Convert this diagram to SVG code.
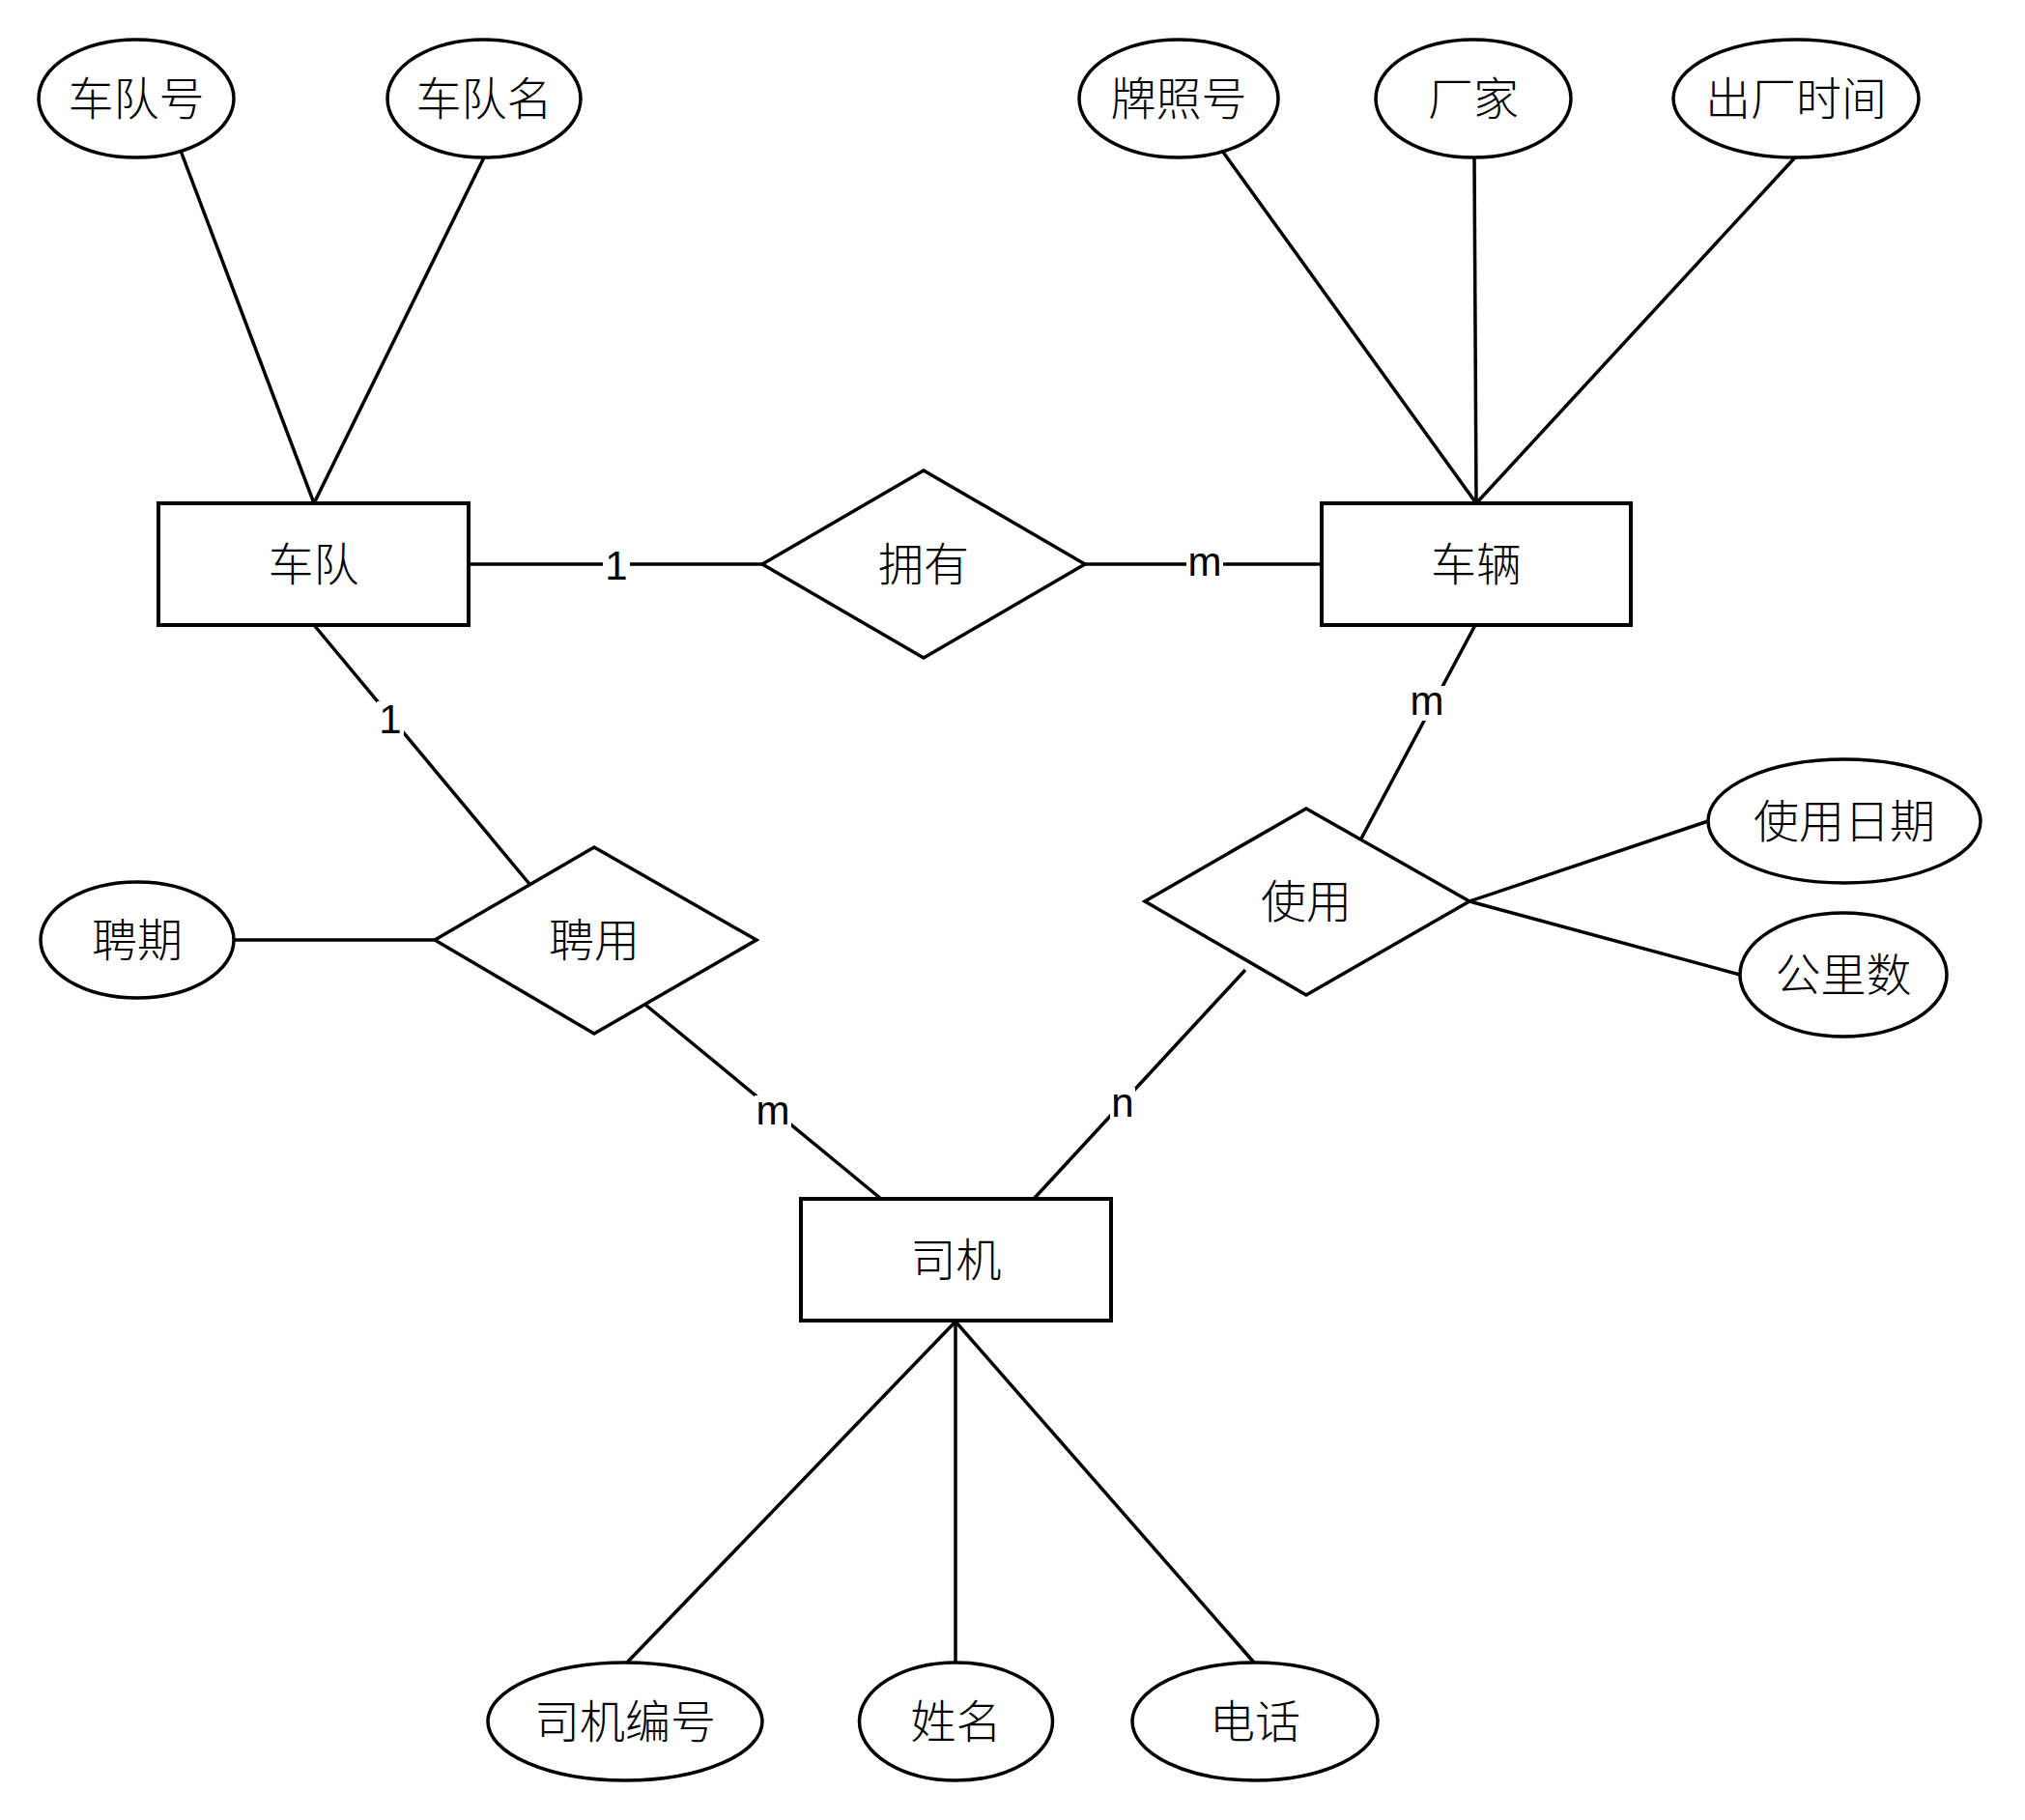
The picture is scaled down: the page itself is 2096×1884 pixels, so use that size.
<svg xmlns="http://www.w3.org/2000/svg" width="2096" height="1884" viewBox="0 0 2096 1884">
<style>
.bg{fill:#ffffff}
.ent{fill:#ffffff;stroke:#000;stroke-width:4}
.attr{fill:#ffffff;stroke:#000;stroke-width:3.5}
.rel{fill:#ffffff;stroke:#000;stroke-width:3.5}
.ln{stroke:#000;stroke-width:3.5;fill:none}
.t{font-family:"Noto Sans CJK SC","Noto Sans",sans-serif;font-size:47px;font-weight:300;fill:#000;text-anchor:middle}
.lb{font-family:"Liberation Sans",Arial,sans-serif;font-size:42px;fill:#000;text-anchor:middle}
.lbg{fill:#ffffff}
</style>
<rect class="bg" x="0" y="0" width="2096" height="1884"/>
<g id="connectors">
<line class="ln" x1="187" y1="156" x2="325" y2="521"/>
<line class="ln" x1="501" y1="163" x2="325" y2="521"/>
<line class="ln" x1="485" y1="584" x2="789" y2="584"/>
<line class="ln" x1="1123" y1="584" x2="1368" y2="584"/>
<line class="ln" x1="1265" y1="156" x2="1528" y2="521"/>
<line class="ln" x1="1526" y1="163" x2="1528" y2="521"/>
<line class="ln" x1="1858" y1="163" x2="1528" y2="521"/>
<line class="ln" x1="1527" y1="647" x2="1409" y2="868"/>
<line class="ln" x1="325" y1="647" x2="548" y2="915"/>
<line class="ln" x1="242" y1="973" x2="450" y2="973"/>
<line class="ln" x1="668" y1="1040" x2="912" y2="1241"/>
<line class="ln" x1="1289" y1="1004" x2="1070" y2="1241"/>
<line class="ln" x1="1521" y1="933" x2="1768" y2="850"/>
<line class="ln" x1="1521" y1="933" x2="1801" y2="1009"/>
<line class="ln" x1="989" y1="1368" x2="649" y2="1721"/>
<line class="ln" x1="989" y1="1368" x2="989" y2="1721"/>
<line class="ln" x1="989" y1="1368" x2="1298" y2="1721"/>
<g id="cardinality">
<rect class="lbg" x="624" y="566" width="28" height="36"/>
<text class="lb" x="638" y="600">1</text>
<rect class="lbg" x="1228" y="566" width="38" height="36"/>
<text class="lb" x="1247" y="596">m</text>
<rect class="lbg" x="390" y="726" width="28" height="36"/>
<text class="lb" x="404" y="759">1</text>
<rect class="lbg" x="1458" y="710" width="38" height="36"/>
<text class="lb" x="1477" y="740">m</text>
<rect class="lbg" x="1149" y="1126" width="26" height="36"/>
<text class="lb" x="1162" y="1156">n</text>
<rect class="lbg" x="781" y="1134" width="38" height="36"/>
<text class="lb" x="800" y="1164">m</text>
</g>
</g>
<g id="node-chedui">
<rect class="ent" x="164" y="521" width="321" height="126"/>
<text class="t" x="324.5" y="601">车队</text>
</g>
<g id="node-cheliang">
<rect class="ent" x="1368" y="521" width="320" height="126"/>
<text class="t" x="1528" y="601">车辆</text>
</g>
<g id="node-siji">
<rect class="ent" x="829" y="1241" width="321" height="126"/>
<text class="t" x="989.5" y="1321">司机</text>
</g>
<g id="node-yongyou">
<polygon class="rel" points="789,584 956,487 1123,584 956,681"/>
<text class="t" x="956" y="601">拥有</text>
</g>
<g id="node-pinyong">
<polygon class="rel" points="450,973 615,877 783,973 615,1070"/>
<text class="t" x="615" y="990">聘用</text>
</g>
<g id="node-shiyong">
<polygon class="rel" points="1185,933 1352,837 1521,933 1352,1030"/>
<text class="t" x="1352" y="950">使用</text>
</g>
<g id="node-cheduihao">
<ellipse class="attr" cx="141" cy="102" rx="101" ry="61"/>
<text class="t" x="141" y="119">车队号</text>
</g>
<g id="node-cheduiming">
<ellipse class="attr" cx="501" cy="102" rx="100" ry="61"/>
<text class="t" x="501" y="119">车队名</text>
</g>
<g id="node-paizhaohao">
<ellipse class="attr" cx="1220" cy="102" rx="103" ry="61"/>
<text class="t" x="1220" y="119">牌照号</text>
</g>
<g id="node-changjia">
<ellipse class="attr" cx="1525" cy="102" rx="101" ry="61"/>
<text class="t" x="1525" y="119">厂家</text>
</g>
<g id="node-chuchangshijian">
<ellipse class="attr" cx="1859" cy="102" rx="127" ry="61"/>
<text class="t" x="1859" y="119">出厂时间</text>
</g>
<g id="node-pinqi">
<ellipse class="attr" cx="142" cy="973" rx="100" ry="60"/>
<text class="t" x="142" y="990">聘期</text>
</g>
<g id="node-shiyongriqi">
<ellipse class="attr" cx="1909" cy="850" rx="141" ry="64"/>
<text class="t" x="1909" y="867">使用日期</text>
</g>
<g id="node-gonglishu">
<ellipse class="attr" cx="1908" cy="1009" rx="107" ry="64"/>
<text class="t" x="1908" y="1026">公里数</text>
</g>
<g id="node-sijibianhao">
<ellipse class="attr" cx="647" cy="1782" rx="142" ry="61"/>
<text class="t" x="647" y="1799">司机编号</text>
</g>
<g id="node-xingming">
<ellipse class="attr" cx="989.5" cy="1782" rx="100" ry="61"/>
<text class="t" x="989.5" y="1799">姓名</text>
</g>
<g id="node-dianhua">
<ellipse class="attr" cx="1299" cy="1782" rx="127" ry="61"/>
<text class="t" x="1299" y="1799">电话</text>
</g>
</svg>
